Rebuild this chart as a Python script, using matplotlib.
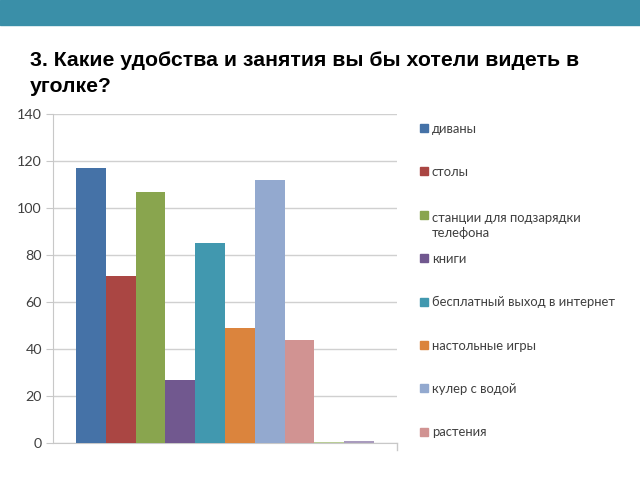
import matplotlib.pyplot as plt
import matplotlib.patches as mpatches

plt.rcParams['font.family'] = ['Lato', 'DejaVu Sans']

# data
labels = ['диваны', 'столы', 'станции для подзарядки\nтелефона', 'книги',
          'бесплатный выход в интернет', 'настольные игры', 'кулер с водой',
          'растения', '', '']
values = [117, 71, 107, 27, 85, 49, 112, 44, 0.5, 0.7]
colors = ['#4572A7', '#AA4643', '#89A54E', '#71588F', '#4198AF',
          '#DB843D', '#93A9CF', '#D19392', '#B9CD96', '#A99BBD']
yticks = [0, 20, 40, 60, 80, 100, 120, 140]

fig = plt.figure(figsize=(6.4, 4.8), dpi=100)

# top band
fig.add_artist(mpatches.Rectangle((0, 1 - 25 / 480), 1, 25 / 480,
                                  transform=fig.transFigure,
                                  color='#3A8FA8', zorder=0))

fig.text(30 / 640, 1 - 92 / 480,
         '3. Какие удобства и занятия вы бы хотели видеть в\nуголке?',
         fontsize=15.3, fontweight='bold', family=['Liberation Sans', 'DejaVu Sans'],
         va='baseline', ha='left', linespacing=1.5)

ax = fig.add_axes([53 / 640, 1 - 443 / 480, 344 / 640, 329 / 480])
x = list(range(len(values)))
ax.bar(x, values, width=1.0, color=colors, zorder=3)
ax.set_xlim(-1.27, 10.27)
ax.set_ylim(0, 140)
ax.set_yticks(yticks)
ax.set_xticks([])
ax.yaxis.grid(True, color='#D0D0D0', linewidth=1, zorder=0)
for s in ['top', 'right']:
    ax.spines[s].set_visible(False)
ax.spines['left'].set_color('#C8C8C8')
ax.spines['bottom'].set_color('#C8C8C8')
ax.tick_params(axis='y', colors='#C8C8C8', labelcolor='#404040',
               labelsize=10.3, length=5, pad=3)
# tick at right end of x axis
ax.plot([1, 1], [0, -0.02], transform=ax.transAxes, color='#C8C8C8',
        clip_on=False, lw=1)

# legend
for i, lab in enumerate(labels[:8]):
    yc = 128 + i * 43.4
    extra = lab.count('\n') * 18
    fig.add_artist(mpatches.Rectangle((420 / 640, 1 - (yc + 4) / 480), 8 / 640, 8 / 480,
                                      transform=fig.transFigure, color=colors[i]))
    fig.text(432 / 640, 1 - (yc + 4.5 + extra) / 480, lab, fontsize=9.4,
             color='#404040', va='baseline', ha='left', linespacing=1.35)

fig.savefig('out.png', dpi=100)
